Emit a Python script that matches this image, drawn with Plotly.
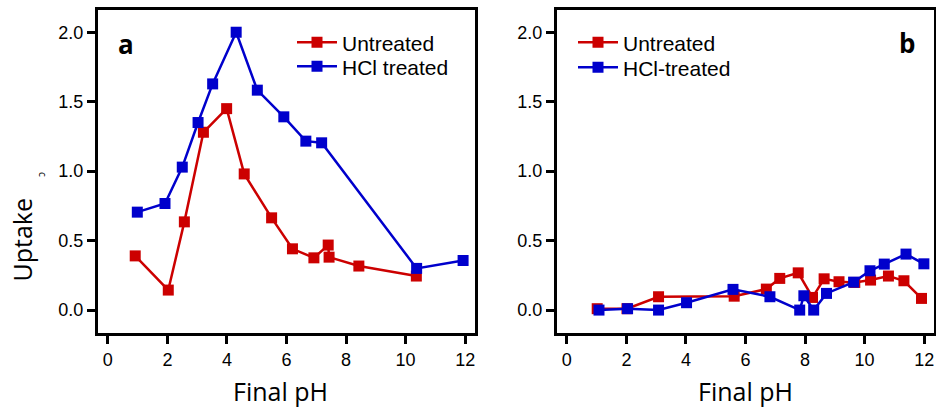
import plotly.graph_objects as go

# ---- data ----
ph_a_untreated = [0.92, 2.03, 2.57, 3.21, 3.99, 4.58, 5.50, 6.20, 6.92, 7.40, 7.43, 8.43, 10.36]
up_a_untreated = [0.39, 0.144, 0.635, 1.28, 1.45, 0.98, 0.664, 0.441, 0.376, 0.468, 0.381, 0.317, 0.245]

ph_a_hcl = [0.99, 1.92, 2.50, 3.03, 3.52, 4.31, 5.02, 5.91, 6.65, 7.18, 10.37, 11.93]
up_a_hcl = [0.705, 0.767, 1.029, 1.35, 1.628, 2.0, 1.583, 1.391, 1.216, 1.204, 0.30, 0.357]

ph_b_untreated = [1.02, 2.02, 3.08, 5.62, 6.70, 7.15, 7.77, 8.25, 8.64, 9.14, 9.67, 10.20, 10.80, 11.32, 11.91]
up_b_untreated = [0.01, 0.01, 0.096, 0.10, 0.151, 0.228, 0.268, 0.091, 0.225, 0.204, 0.199, 0.216, 0.245, 0.211, 0.084]

ph_b_hcl = [1.08, 2.04, 3.08, 4.02, 5.58, 6.82, 7.82, 7.96, 8.29, 8.72, 9.63, 10.18, 10.66, 11.39, 11.99]
up_b_hcl = [0.0, 0.01, 0.0, 0.053, 0.149, 0.096, 0.0, 0.103, 0.0, 0.12, 0.201, 0.283, 0.331, 0.403, 0.333]

x_ticks = [0, 2, 4, 6, 8, 10, 12]
y_ticks = [0.0, 0.5, 1.0, 1.5, 2.0]

RED = "#cc0000"
BLUE = "#0000cc"
W, H = 936, 411

fig = go.Figure()

def add(x, y, name, color, xa, ya, leg):
    fig.add_trace(go.Scatter(
        x=x, y=y, name=name, mode="lines+markers",
        line=dict(color=color, width=2.5),
        marker=dict(symbol="square", size=11, color=color, line=dict(width=0)),
        xaxis=xa, yaxis=ya, legend=leg,
    ))

add(ph_a_untreated, up_a_untreated, "Untreated", RED, "x", "y", "legend")
add(ph_a_hcl, up_a_hcl, "HCl treated", BLUE, "x", "y", "legend2")
add(ph_b_untreated, up_b_untreated, "Untreated", RED, "x2", "y2", "legend3")
add(ph_b_hcl, up_b_hcl, "HCl-treated", BLUE, "x2", "y2", "legend4")

tickfont = dict(family="Liberation Sans, Arial, sans-serif", size=18, color="black")

def xaxis(dom, anchor):
    return dict(domain=dom, anchor=anchor, range=[-0.33, 12.33], tickvals=x_ticks,
                ticktext=[str(v) for v in x_ticks], showline=True, mirror=True,
                linecolor="black", linewidth=3, ticks="outside", ticklen=8,
                tickwidth=2.5, tickcolor="black", showgrid=False, zeroline=False,
                tickfont=tickfont)

def yaxis(anchor):
    return dict(domain=[1 - 333 / H, 1 - 10 / H], anchor=anchor, range=[-0.165, 2.16],
                tickvals=y_ticks, ticktext=[f"{v:.1f}" for v in y_ticks],
                showline=True, mirror=True, linecolor="black", linewidth=3,
                ticks="outside", ticklen=8, tickwidth=2.5, tickcolor="black",
                showgrid=False, zeroline=False, tickfont=tickfont)

legfont = dict(family="Liberation Sans, Arial, sans-serif", size=21, color="black")

def leg(xpx, ypx):
    return dict(x=xpx / W, y=1 - ypx / H, xanchor="left", yanchor="middle",
                bgcolor="rgba(0,0,0,0)", font=legfont, itemwidth=40,
                borderwidth=0)

fig.update_layout(
    width=W, height=H, margin=dict(l=0, r=0, t=0, b=0),
    paper_bgcolor="white", plot_bgcolor="white",
    xaxis=xaxis([98 / W, 475 / W], "y"),
    yaxis=yaxis("x"),
    xaxis2=xaxis([557 / W, 934 / W], "y2"),
    yaxis2=yaxis("x2"),
    legend=leg(292, 42.7),
    legend2=leg(292, 66.7),
    legend3=leg(573, 42.7),
    legend4=leg(573, 67.7),
    showlegend=True,
)

titlefont = dict(family="Open Sans, sans-serif", size=25, color="black")
fig.add_annotation(text="Final pH", xref="paper", yref="paper", x=280 / W, y=1 - 391 / H,
                   showarrow=False, font=titlefont, xanchor="center", yanchor="middle")
fig.add_annotation(text="Final pH", xref="paper", yref="paper", x=745 / W, y=1 - 391 / H,
                   showarrow=False, font=titlefont, xanchor="center", yanchor="middle")
fig.add_annotation(text="Uptake", xref="paper", yref="paper", x=21.5 / W, y=1 - 240 / H,
                   showarrow=False, font=titlefont, textangle=-90,
                   xanchor="center", yanchor="middle")
fig.add_annotation(text="c", xref="paper", yref="paper", x=43 / W, y=1 - 174 / H,
                   showarrow=False, font=dict(family="Open Sans, sans-serif", size=10, color="black"),
                   textangle=90, xanchor="center", yanchor="middle")

labfont = dict(family="Open Sans, sans-serif", size=26, color="black", weight="bold")
fig.add_annotation(text="<b>a</b>", xref="paper", yref="paper", x=126 / W, y=1 - 44 / H,
                   showarrow=False, font=labfont, xanchor="center", yanchor="middle")
fig.add_annotation(text="<b>b</b>", xref="paper", yref="paper", x=907 / W, y=1 - 43 / H,
                   showarrow=False, font=labfont, xanchor="center", yanchor="middle")

fig.write_html("out.html")
